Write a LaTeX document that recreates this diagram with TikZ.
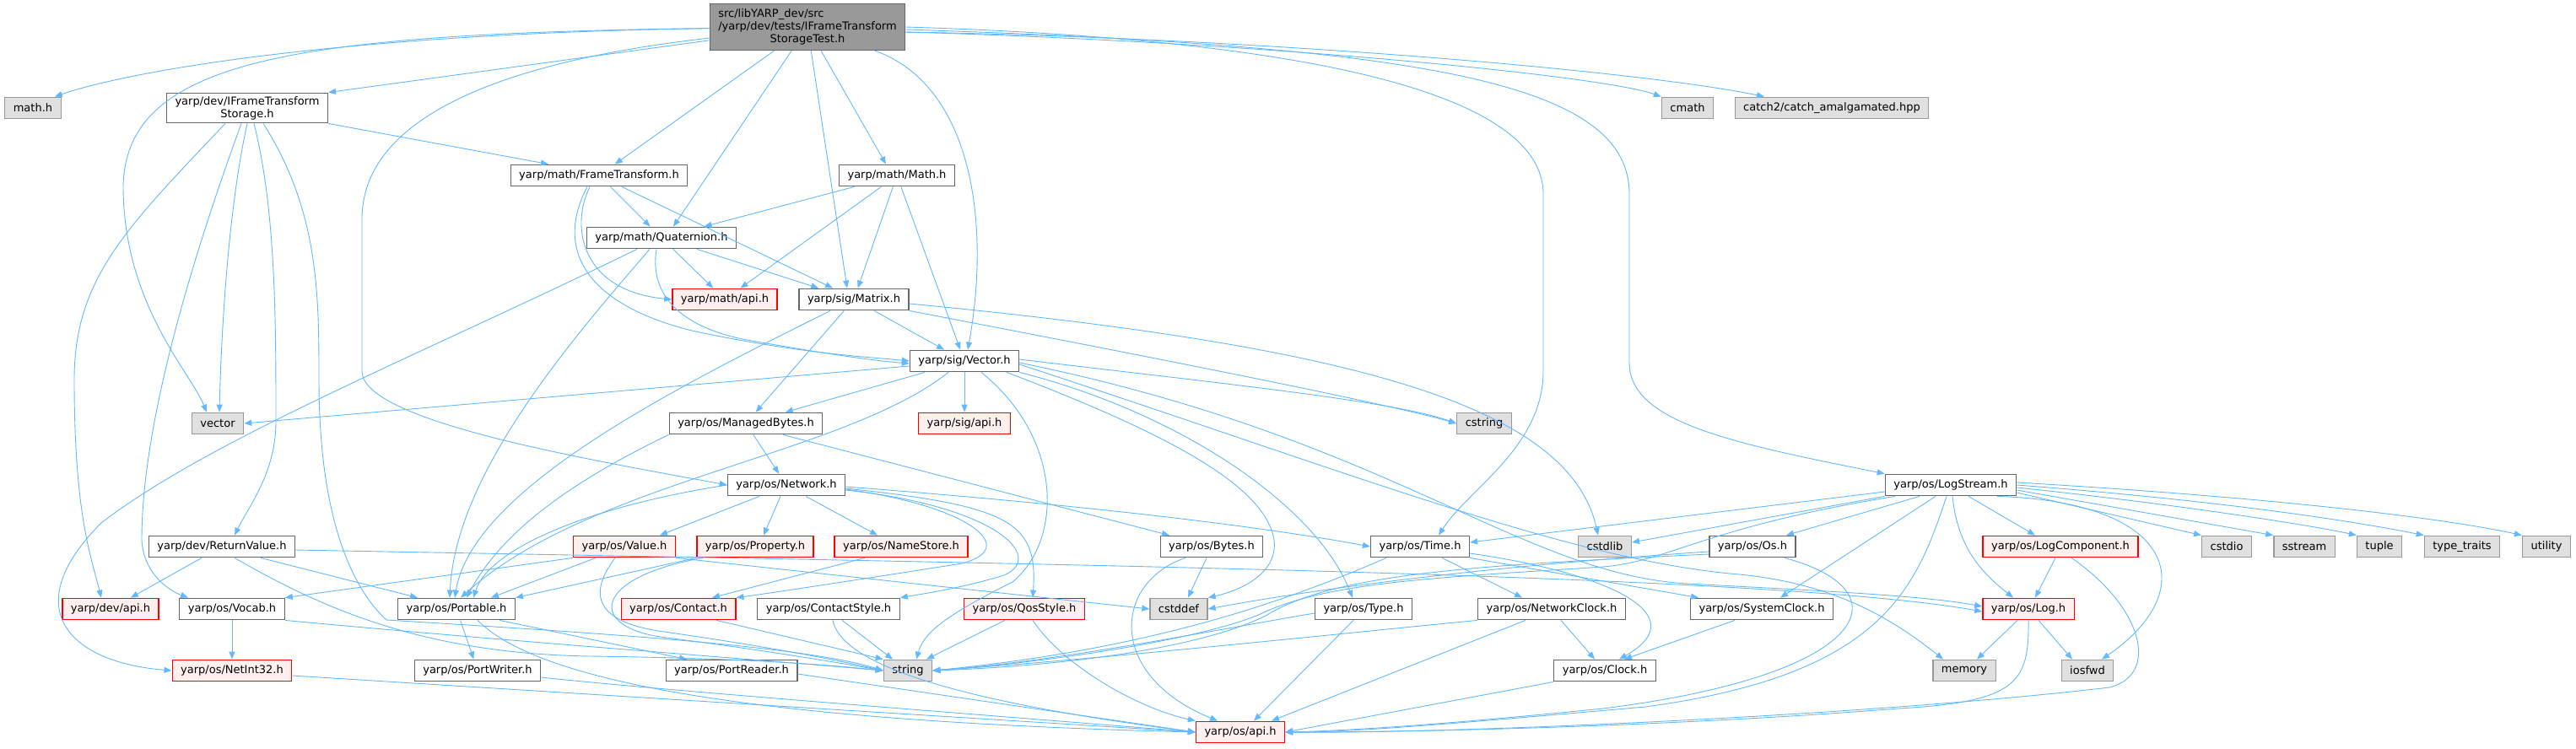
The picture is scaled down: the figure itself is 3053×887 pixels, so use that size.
\documentclass[tikz,border=0pt]{standalone}
\usepackage{fontspec}
\setmainfont{DejaVu Sans}
\usepackage{tikz}
\usetikzlibrary{arrows.meta}
\definecolor{edgeblue}{HTML}{63B8FF}
\definecolor{boxline}{HTML}{666666}
\definecolor{redfill}{HTML}{FFF0F0}
\definecolor{sysfill}{HTML}{E0E0E0}
\definecolor{sysline}{HTML}{999999}
\definecolor{rootfill}{HTML}{999999}
\tikzset{
    file box/.style={draw=boxline, fill=white, line width=1.3pt,
        font=\fontsize{13}{15}\selectfont, inner xsep=10pt, inner ysep=0pt,
        minimum height=25.5pt},
    missing box/.style={file box, draw=red, fill=redfill},
    system box/.style={file box, draw=sysline, fill=sysfill},
    root box/.style={file box, fill=rootfill, inner ysep=5pt},
    include edge/.style={draw=edgeblue, line width=0.9pt,
        -{Triangle[length=9pt,width=7pt]}},
}

\begin{document}
\begin{tikzpicture}[x=1pt, y=-1pt]
    \useasboundingbox (0,0) rectangle (3053,887);
    % files, row by row (pixel positions of the reference)
    \node[root box] (main) at (957,32) {\begin{tabular}{@{}l@{}}src/libYARP\_dev/src\\/yarp/dev/tests/IFrameTransform\\\multicolumn{1}{@{}c@{}}{StorageTest.h}\end{tabular}};
    \node[system box] (mathh) at (39,128) {math.h};
    \node[file box, align=center, inner ysep=4pt] (ifts) at (293,128) {yarp/dev/IFrameTransform\\Storage.h};
    \node[system box] (cmath) at (2000,128) {cmath};
    \node[system box] (catch) at (2171,128) {catch2/catch\_amalgamated.hpp};
    \node[file box] (frametf) at (710,208) {yarp/math/FrameTransform.h};
    \node[file box] (mathmath) at (1063,208) {yarp/math/Math.h};
    \node[file box] (quat) at (784,282) {yarp/math/Quaternion.h};
    \node[missing box] (mathapi) at (859,355) {yarp/math/api.h};
    \node[file box] (matrix) at (1012,355) {yarp/sig/Matrix.h};
    \node[file box] (vector) at (1143,428) {yarp/sig/Vector.h};
    \node[system box] (stdvector) at (258,502) {vector};
    \node[file box] (mbytes) at (884,502) {yarp/os/ManagedBytes.h};
    \node[missing box] (sigapi) at (1143,502) {yarp/sig/api.h};
    \node[system box] (cstring) at (1759,502) {cstring};
    \node[file box] (network) at (932,575) {yarp/os/Network.h};
    \node[file box] (logstream) at (2312,575) {yarp/os/LogStream.h};
    \node[file box] (retval) at (263,648) {yarp/dev/ReturnValue.h};
    \node[missing box] (value) at (740,648) {yarp/os/Value.h};
    \node[missing box] (property) at (895,648) {yarp/os/Property.h};
    \node[missing box] (namestore) at (1068,648) {yarp/os/NameStore.h};
    \node[file box] (bytes) at (1436,648) {yarp/os/Bytes.h};
    \node[file box] (time) at (1683,648) {yarp/os/Time.h};
    \node[system box] (cstdlib) at (1902,648) {cstdlib};
    \node[file box] (os) at (2077,648) {yarp/os/Os.h};
    \node[missing box] (logcomp) at (2442,648) {yarp/os/LogComponent.h};
    \node[system box] (cstdio) at (2639,648) {cstdio};
    \node[system box] (sstream) at (2731,648) {sstream};
    \node[system box] (tuple) at (2820,648) {tuple};
    \node[system box] (typetraits) at (2918,648) {type\_traits};
    \node[system box] (utility) at (3018,648) {utility};
    \node[missing box] (devapi) at (131,722) {yarp/dev/api.h};
    \node[file box] (vocab) at (275,722) {yarp/os/Vocab.h};
    \node[file box] (portable) at (541,722) {yarp/os/Portable.h};
    \node[missing box] (contact) at (804,722) {yarp/os/Contact.h};
    \node[file box] (contactstyle) at (982,722) {yarp/os/ContactStyle.h};
    \node[missing box] (qosstyle) at (1214,722) {yarp/os/QosStyle.h};
    \node[system box] (cstddef) at (1397,722) {cstddef};
    \node[file box] (type) at (1616,722) {yarp/os/Type.h};
    \node[file box] (netclock) at (1839,722) {yarp/os/NetworkClock.h};
    \node[file box] (sysclock) at (2088,722) {yarp/os/SystemClock.h};
    \node[missing box] (log) at (2404,722) {yarp/os/Log.h};
    \node[missing box] (netint) at (275,795) {yarp/os/NetInt32.h};
    \node[file box] (portwriter) at (566,795) {yarp/os/PortWriter.h};
    \node[file box] (portreader) at (867,795) {yarp/os/PortReader.h};
    \node[system box] (string) at (1076,795) {string};
    \node[file box] (clock) at (1902,795) {yarp/os/Clock.h};
    \node[system box] (memory) at (2328,795) {memory};
    \node[system box] (iosfwd) at (2474,795) {iosfwd};
    \node[missing box] (osapi) at (1470,868) {yarp/os/api.h};

    % test header
    \draw[include edge] (main) .. controls (400,40) and (150,85) .. ([xshift=-8pt]mathh.north east);
    \draw[include edge] (main) .. controls (350,40) and (150,70) .. (146,220) .. controls (146,360) and (225,440) .. ([xshift=-13pt]stdvector.north);
    \draw[include edge] (main) -- (ifts.north east);
    \draw[include edge] (main) .. controls (620,70) and (429,130) .. (429,260) -- (429,440) .. controls (429,500) and (700,545) .. (network.west);
    \draw[include edge] (main) -- (frametf);
    \draw[include edge] (main) -- ([xshift=14pt]quat.north);
    \draw[include edge] (main) -- ([xshift=-8pt]matrix.north);
    \draw[include edge] (main) -- ([xshift=-13pt]mathmath.north);
    \draw[include edge] (main) .. controls (1150,100) and (1175,260) .. ([xshift=4pt]vector.north);
    \draw[include edge] (main.east) .. controls (1500,45) and (1829,100) .. (1829,230) -- (1829,440) .. controls (1829,530) and (1740,580) .. ([xshift=22pt]time.north);
    \draw[include edge] ([yshift=-3pt]main.east) .. controls (1700,55) and (1931,100) .. (1931,230) -- (1931,430) .. controls (1931,500) and (2050,525) .. (logstream.north west);
    \draw[include edge] ([yshift=-6pt]main.east) .. controls (1500,50) and (1900,90) .. (cmath.north west);
    \draw[include edge] ([yshift=-6pt]main.east) .. controls (1500,45) and (1950,85) .. ([xshift=-80pt]catch.north);
    % IFrameTransformStorage.h
    \draw[include edge] (ifts.south east) -- ([xshift=-60pt]frametf.north);
    \draw[include edge] ([xshift=-26pt]ifts.south) .. controls (150,270) and (88,330) .. (88,450) .. controls (88,610) and (108,660) .. ([xshift=-11pt]devapi.north);
    \draw[include edge] ([xshift=-7pt]ifts.south) .. controls (230,300) and (168,500) .. (168,640) .. controls (170,680) and (200,700) .. ([xshift=-52pt]vocab.north);
    \draw[include edge] (ifts.south) .. controls (270,250) and (262,400) .. ([xshift=2pt]stdvector.north);
    \draw[include edge] ([xshift=8pt]ifts.south) .. controls (327,250) and (327,380) .. (327,500) .. controls (327,560) and (295,600) .. ([xshift=15pt]retval.north);
    \draw[include edge] ([xshift=19pt]ifts.south) .. controls (378,250) and (378,350) .. (378,450) .. controls (378,620) and (420,700) .. (458,735) .. controls (700,750) and (950,765) .. (string.west);
    % math
    \draw[include edge] (frametf) -- (quat);
    \draw[include edge] ([xshift=27pt]frametf.south) -- ([xshift=-25pt]matrix.north);
    \draw[include edge] ([xshift=-11pt]frametf.south) .. controls (675,270) and (690,345) .. (mathapi.west);
    \draw[include edge] ([xshift=-14pt]frametf.south) .. controls (655,300) and (700,362) .. (820,392) .. controls (950,420) and (1040,424) .. (vector.west);
    \draw[include edge] (mathmath) -- (quat);
    \draw[include edge] (mathmath) -- (mathapi);
    \draw[include edge] (mathmath) -- (matrix);
    \draw[include edge] (mathmath) -- (vector);
    \draw[include edge] (quat) -- (mathapi);
    \draw[include edge] (quat) -- (matrix);
    \draw[include edge] ([xshift=-6pt]quat.south) .. controls (770,345) and (800,385) .. (880,402) .. controls (980,420) and (1040,428) .. ([yshift=-3pt]vector.west);
    \draw[include edge] ([xshift=-14pt]quat.south) .. controls (680,400) and (540,560) .. ([xshift=-8pt]portable.north);
    \draw[include edge] ([xshift=-29pt]quat.south) .. controls (500,420) and (250,520) .. (120,620) .. controls (20,720) and (80,785) .. (netint.west);
    % sig
    \draw[include edge] (matrix) -- (vector);
    \draw[include edge] (matrix) -- (mbytes);
    \draw[include edge] ([xshift=-28pt]matrix.south) .. controls (800,460) and (560,580) .. ([xshift=-2pt]portable.north);
    \draw[include edge] (matrix.south east) .. controls (1400,430) and (1650,480) .. (cstring.west);
    \draw[include edge] ([yshift=-5pt]matrix.east) .. controls (1600,410) and (1860,480) .. ([xshift=-8pt]cstdlib.north);
    \draw[include edge] ([yshift=-6pt]vector.west) -- (stdvector.east);
    \draw[include edge] (vector) -- (mbytes);
    \draw[include edge] ([xshift=-19pt]vector.south) .. controls (1000,540) and (700,570) .. ([xshift=5pt]portable.north);
    \draw[include edge] (vector) -- (sigapi);
    \draw[include edge] ([xshift=20pt]vector.south) .. controls (1260,520) and (1260,640) .. (1200,690) .. controls (1120,730) and (1095,750) .. ([xshift=10pt]string.north);
    \draw[include edge] ([xshift=50pt]vector.south) .. controls (1400,520) and (1500,580) .. (1510,640) .. controls (1515,680) and (1470,700) .. (cstddef.north east);
    \draw[include edge] (vector.south east) .. controls (1400,490) and (1560,600) .. ([xshift=-13pt]type.north);
    \draw[include edge] ([yshift=2pt]vector.east) .. controls (1450,455) and (1650,475) .. (cstring.west);
    \draw[include edge] ([yshift=-4pt]vector.east) .. controls (1600,560) and (1850,660) .. (2050,680) .. controls (2180,690) and (2250,740) .. ([xshift=-25pt]memory.north);
    \draw[include edge] ([yshift=-2pt]vector.east) .. controls (1650,520) and (1800,680) .. (2000,692) .. controls (2150,700) and (2280,706) .. ([yshift=3pt]log.west);
    % os
    \draw[include edge] (mbytes) -- (network);
    \draw[include edge] (mbytes.south west) .. controls (700,560) and (600,620) .. ([xshift=12pt]portable.north);
    \draw[include edge] ([xshift=44pt]mbytes.south) -- ([xshift=-50pt]bytes.north);
    \draw[include edge] ([xshift=-32pt]network.south) -- ([xshift=42pt]value.north);
    \draw[include edge] ([xshift=-7pt]network.south) -- ([xshift=10pt]property.north);
    \draw[include edge] ([xshift=23pt]network.south) -- ([xshift=-28pt]namestore.north);
    \draw[include edge] ([yshift=-5pt]network.east) .. controls (1150,600) and (1210,650) .. (1140,668) .. controls (1000,690) and (900,705) .. (contact.north east);
    \draw[include edge] ([yshift=-6pt]network.east) .. controls (1180,600) and (1240,660) .. (1190,682) .. controls (1140,697) and (1100,703) .. (contactstyle.north east);
    \draw[include edge] ([yshift=-4pt]network.east) .. controls (1200,600) and (1230,620) .. ([xshift=10pt]qosstyle.north);
    \draw[include edge] ([yshift=-2pt]network.east) .. controls (1300,600) and (1500,625) .. (time.west);
    \draw[include edge] (network.west) .. controls (700,600) and (580,650) .. ([xshift=20pt]portable.north);
    \draw[include edge] (retval) -- (devapi);
    \draw[include edge] ([xshift=46pt]retval.south) -- ([xshift=-46pt]portable.north);
    \draw[include edge] ([xshift=15pt]retval.south) .. controls (380,720) and (500,775) .. (700,778) .. controls (850,780) and (950,785) .. (string.west);
    \draw[include edge] ([yshift=-4pt]retval.east) .. controls (1200,668) and (2100,680) .. ([yshift=-3pt]log.west);
    \draw[include edge] ([xshift=-34pt]value.south) -- ([xshift=41pt]portable.north);
    \draw[include edge] (value.south west) -- (vocab.north east);
    \draw[include edge] ([xshift=-11pt]value.south) .. controls (700,700) and (700,735) .. (780,748) .. controls (900,765) and (980,780) .. (string.west);
    \draw[include edge] (value.south east) -- (cstddef.west);
    \draw[include edge] (property.south west) -- (portable.north east);
    \draw[include edge] ([xshift=-62pt]property.south) .. controls (700,685) and (695,745) .. (790,756) .. controls (900,770) and (990,785) .. (string.west);
    \draw[include edge] ([xshift=-43pt]namestore.south) -- ([xshift=40pt]contact.north);
    \draw[include edge] ([xshift=45pt]contact.south) -- (string.north west);
    \draw[include edge] ([xshift=16pt]contactstyle.south) -- ([xshift=-18pt]string.north);
    \draw[include edge] ([xshift=5pt]contactstyle.south) .. controls (1000,800) and (1200,840) .. (osapi.west);
    \draw[include edge] ([xshift=-23pt]qosstyle.south) -- ([xshift=22pt]string.north);
    \draw[include edge] ([xshift=10pt]qosstyle.south) .. controls (1260,790) and (1350,840) .. (osapi.north west);
    \draw[include edge] ([xshift=-6pt]bytes.south) -- ([xshift=11pt]cstddef.north);
    \draw[include edge] ([xshift=-31pt]bytes.south) .. controls (1320,690) and (1310,800) .. ([xshift=-27pt]osapi.north);
    \draw[include edge] (vocab) -- (netint);
    \draw[include edge] (vocab.south east) .. controls (600,760) and (900,782) .. (string.west);
    \draw[include edge] (portable) -- (portwriter);
    \draw[include edge] ([xshift=51pt]portable.south) -- ([xshift=-53pt]portreader.north);
    \draw[include edge] ([xshift=25pt]portable.south) .. controls (640,810) and (900,855) .. (osapi.west);
    \draw[include edge] ([yshift=-8pt]portwriter.east) .. controls (800,820) and (1200,850) .. (osapi.west);
    \draw[include edge] ([yshift=-4pt]portreader.east) -- (osapi.west);
    \draw[include edge] ([yshift=-6pt]netint.east) -- (osapi.west);
    % time and clocks
    \draw[include edge] ([xshift=26pt]time.south) -- ([xshift=-35pt]netclock.north);
    \draw[include edge] ([yshift=-8pt]time.east) .. controls (1910,680) and (2010,730) .. ([xshift=17pt]clock.north);
    \draw[include edge] (time.south east) -- ([xshift=-75pt]sysclock.north);
    \draw[include edge] ([xshift=-40pt]time.south) .. controls (1520,715) and (1360,770) .. (string.east);
    \draw[include edge] ([xshift=-12pt]type.south) -- ([xshift=16pt]osapi.north);
    \draw[include edge] ([yshift=-5pt]type.west) .. controls (1450,745) and (1250,785) .. (string.east);
    \draw[include edge] ([xshift=11pt]netclock.south) -- ([xshift=-12pt]clock.north);
    \draw[include edge] ([xshift=-31pt]netclock.south) -- ([xshift=37pt]osapi.north);
    \draw[include edge] (netclock.south west) .. controls (1600,750) and (1300,782) .. (string.east);
    \draw[include edge] ([xshift=-32pt]sysclock.south) -- ([xshift=23pt]clock.north);
    \draw[include edge] (clock.south west) -- (osapi.east);
    \draw[include edge] ([yshift=-6pt]os.west) .. controls (1750,672) and (1550,700) .. (cstddef.east);
    \draw[include edge] ([yshift=-9pt]os.west) .. controls (1750,670) and (1580,680) .. (1500,730) .. controls (1420,770) and (1250,790) .. (string.east);
    \draw[include edge] ([xshift=38pt]os.south) .. controls (2260,700) and (2220,800) .. (1900,840) .. controls (1700,860) and (1600,866) .. (osapi.east);
    % log stream
    \draw[include edge] ([yshift=-8pt]logstream.west) -- ([yshift=5pt]time.east);
    \draw[include edge] (logstream.south west) -- ([yshift=5pt]cstdlib.east);
    \draw[include edge] ([xshift=-66pt]logstream.south) .. controls (2020,625) and (1980,665) .. (1900,672) .. controls (1700,685) and (1580,690) .. (1500,725) .. controls (1440,755) and (1250,785) .. (string.east);
    \draw[include edge] ([xshift=-37pt]logstream.south) -- ([xshift=40pt]os.north);
    \draw[include edge] ([xshift=-18pt]logstream.south) -- ([xshift=22pt]sysclock.north);
    \draw[include edge] ([xshift=-5pt]logstream.south) .. controls (2270,700) and (2230,800) .. (1950,838) .. controls (1700,860) and (1600,868) .. (osapi.east);
    \draw[include edge] ([xshift=2pt]logstream.south) .. controls (2320,650) and (2350,680) .. ([xshift=-18pt]log.north);
    \draw[include edge] ([xshift=21pt]logstream.south) -- ([xshift=-30pt]logcomp.north);
    \draw[include edge] ([yshift=-9pt]logstream.east) -- (cstdio.north west);
    \draw[include edge] ([yshift=-6pt]logstream.east) -- (sstream.north west);
    \draw[include edge] ([yshift=-3pt]logstream.east) .. controls (2600,600) and (2750,625) .. (tuple.north west);
    \draw[include edge] (logstream.east) .. controls (2650,595) and (2800,620) .. (typetraits.north west);
    \draw[include edge] ([yshift=3pt]logstream.east) .. controls (2700,590) and (2900,615) .. (utility.north west);
    \draw[include edge] ([xshift=55pt]logstream.south) .. controls (2580,595) and (2610,700) .. ([xshift=17pt]iosfwd.north);
    \draw[include edge] ([xshift=-6pt]logcomp.south) -- ([xshift=8pt]log.north);
    \draw[include edge] ([xshift=13pt]logcomp.south) .. controls (2540,720) and (2560,800) .. (2500,815) .. controls (2200,850) and (1700,870) .. (osapi.east);
    \draw[include edge] ([xshift=-13pt]log.south) -- ([xshift=15pt]memory.north);
    \draw[include edge] ([xshift=12pt]log.south) -- ([xshift=-18pt]iosfwd.north);
    \draw[include edge] (log.south) .. controls (2405,810) and (2390,832) .. (2250,840) .. controls (2000,860) and (1700,868) .. (osapi.east);
\end{tikzpicture}
\end{document}
